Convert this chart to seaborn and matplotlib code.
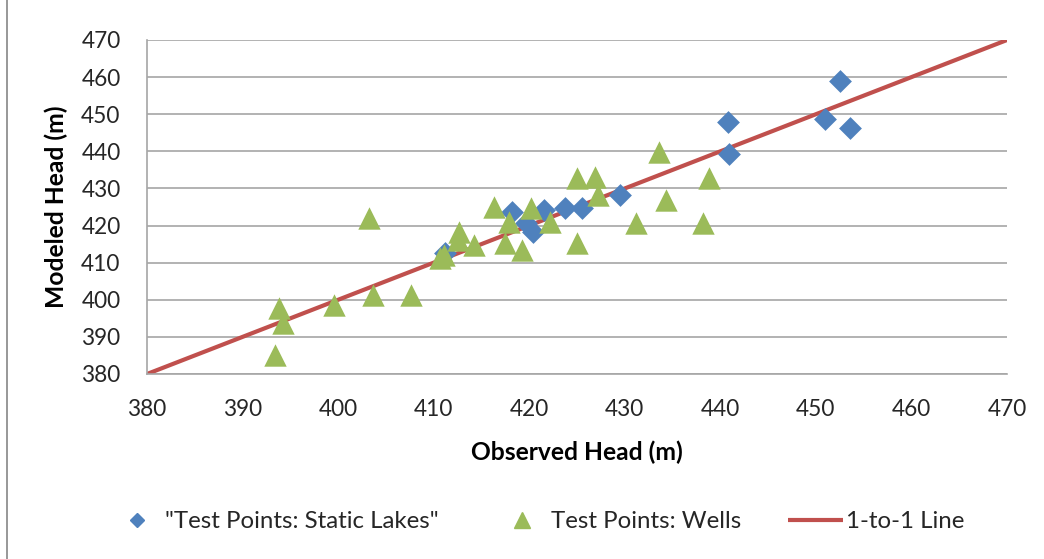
import matplotlib
matplotlib.use("Agg")
import matplotlib.pyplot as plt
import seaborn as sns
import pandas as pd
from matplotlib.patches import Rectangle
from matplotlib.lines import Line2D

# ---- data ----
lakes_obs = [411.2, 418.2, 419.7, 420.4, 421.5, 423.7, 425.5, 429.5,
             440.8, 440.9, 451.0, 452.5, 453.6]
lakes_mod = [412.6, 423.7, 420.6, 418.3, 424.2, 424.6, 424.6, 428.2,
             448.0, 439.2, 448.6, 459.0, 446.2]

wells_obs = [393.4, 393.8, 394.2, 399.6, 403.2, 403.6, 407.6, 410.7,
             411.1, 412.5, 412.7, 414.2, 416.3, 417.5, 417.9, 419.2,
             420.2, 422.2, 425.0, 425.0, 426.9, 427.2, 431.2, 433.6,
             434.3, 438.2, 438.8]
wells_mod = [385.1, 397.7, 393.7, 398.6, 422.0, 401.3, 401.3, 411.2,
             412.1, 416.0, 418.3, 414.8, 425.1, 415.2, 421.0, 413.4,
             424.6, 421.0, 415.2, 432.7, 433.2, 428.2, 420.6, 439.9,
             426.9, 420.6, 432.7]

line_x = [380, 470]
line_y = [380, 470]

ticks = [380, 390, 400, 410, 420, 430, 440, 450, 460, 470]

x_title = 'Observed Head (m)'
y_title = 'Modeled Head (m)'
label_lakes = '"Test Points: Static Lakes"'
label_wells = 'Test Points: Wells'
label_line = '1-to-1 Line'

c_blue = '#4F81BD'
c_green = '#9BBB59'
c_red = '#C0504D'
c_grid = '#A6A6A6'
c_text = '#262626'

W, H = 1044, 559
sns.set_style("white")
plt.rcParams['font.family'] = ['Lato', 'DejaVu Sans']

fig = plt.figure(figsize=(W / 100, H / 100), dpi=100)
renderer = fig.canvas.get_renderer()


def fit_size(s, target_px, weight='normal'):
    t = fig.text(0, 0, s, fontsize=10, fontweight=weight)
    w = t.get_window_extent(renderer=renderer).width
    t.remove()
    return 10 * target_px / w


tick_fs = fit_size('380', 39)
title_fs = fit_size(x_title, 213, 'bold')
leg_fs = fit_size(label_wells, 190)
leg_px = leg_fs * 100 / 72

ax = fig.add_axes([147 / W, 1 - 374 / H, 860 / W, 334 / H])

df_l = pd.DataFrame({'x': lakes_obs, 'y': lakes_mod})
df_w = pd.DataFrame({'x': wells_obs, 'y': wells_mod})
df_line = pd.DataFrame({'x': line_x, 'y': line_y})

sns.lineplot(data=df_line, x='x', y='y', ax=ax, color=c_red, linewidth=3,
             zorder=2, solid_capstyle='butt')
sns.scatterplot(data=df_l, x='x', y='y', ax=ax, marker='D', s=135,
                color=c_blue, edgecolor=c_blue, linewidth=0, zorder=3)
sns.scatterplot(data=df_w, x='x', y='y', ax=ax, marker='^', s=260,
                color=c_green, edgecolor=c_green, linewidth=0, zorder=4)

ax.set_xlim(380, 470)
ax.set_ylim(380, 470)
ax.set_xticks(ticks)
ax.set_yticks(ticks)
ax.grid(axis='y', color=c_grid, linewidth=1.2)
ax.grid(axis='x', visible=False)
ax.set_axisbelow(True)
for side in ['top', 'right']:
    ax.spines[side].set_visible(False)
for side in ['left', 'bottom']:
    ax.spines[side].set_color(c_grid)
    ax.spines[side].set_linewidth(1.2)
ax.tick_params(axis='both', length=0, labelsize=tick_fs, colors=c_text)
ax.tick_params(axis='y', pad=19)
ax.tick_params(axis='x', pad=18)

ax.set_xlabel(x_title, fontsize=title_fs, fontweight='bold', va='center', color='black')
ax.set_ylabel(y_title, fontsize=title_fs, fontweight='bold', va='center', color='black')
ax.xaxis.set_label_coords(0.5, (374 - 452) / 334)
ax.yaxis.set_label_coords((56 - 147) / 860, 0.5)

leg_y = 1 - 522 / H


def add_entry(handle, label, start_px, handle_len_px, text_start_px):
    pad_px = text_start_px - start_px - handle_len_px
    leg = fig.legend([handle], [label], loc='center left',
                     bbox_to_anchor=(start_px / W, leg_y), frameon=False,
                     fontsize=leg_fs, handlelength=handle_len_px / leg_px,
                     handletextpad=pad_px / leg_px, borderpad=0, borderaxespad=0)
    for t in leg.get_texts():
        t.set_color(c_text)
    return leg


# diamond centre 137, text from 165
add_entry(Line2D([], [], marker='D', linestyle='none', color=c_blue, markersize=7.5),
          label_lakes, 137 - 12, 24, 165)
# triangle centre 522, text from 551
add_entry(Line2D([], [], marker='^', linestyle='none', color=c_green, markersize=11),
          label_wells, 522 - 12, 24, 551)
# line 788-843, text from 845
add_entry(Line2D([], [], color=c_red, linewidth=3, solid_capstyle='butt'),
          label_line, 788, 55, 846)

fig.patches.append(Rectangle((7 / W, -0.2), 1.2, 1.2 + (1 - 10 / H),
                             transform=fig.transFigure, fill=False,
                             edgecolor='#868686', linewidth=1.2))

fig.savefig('out.png', dpi=100)
